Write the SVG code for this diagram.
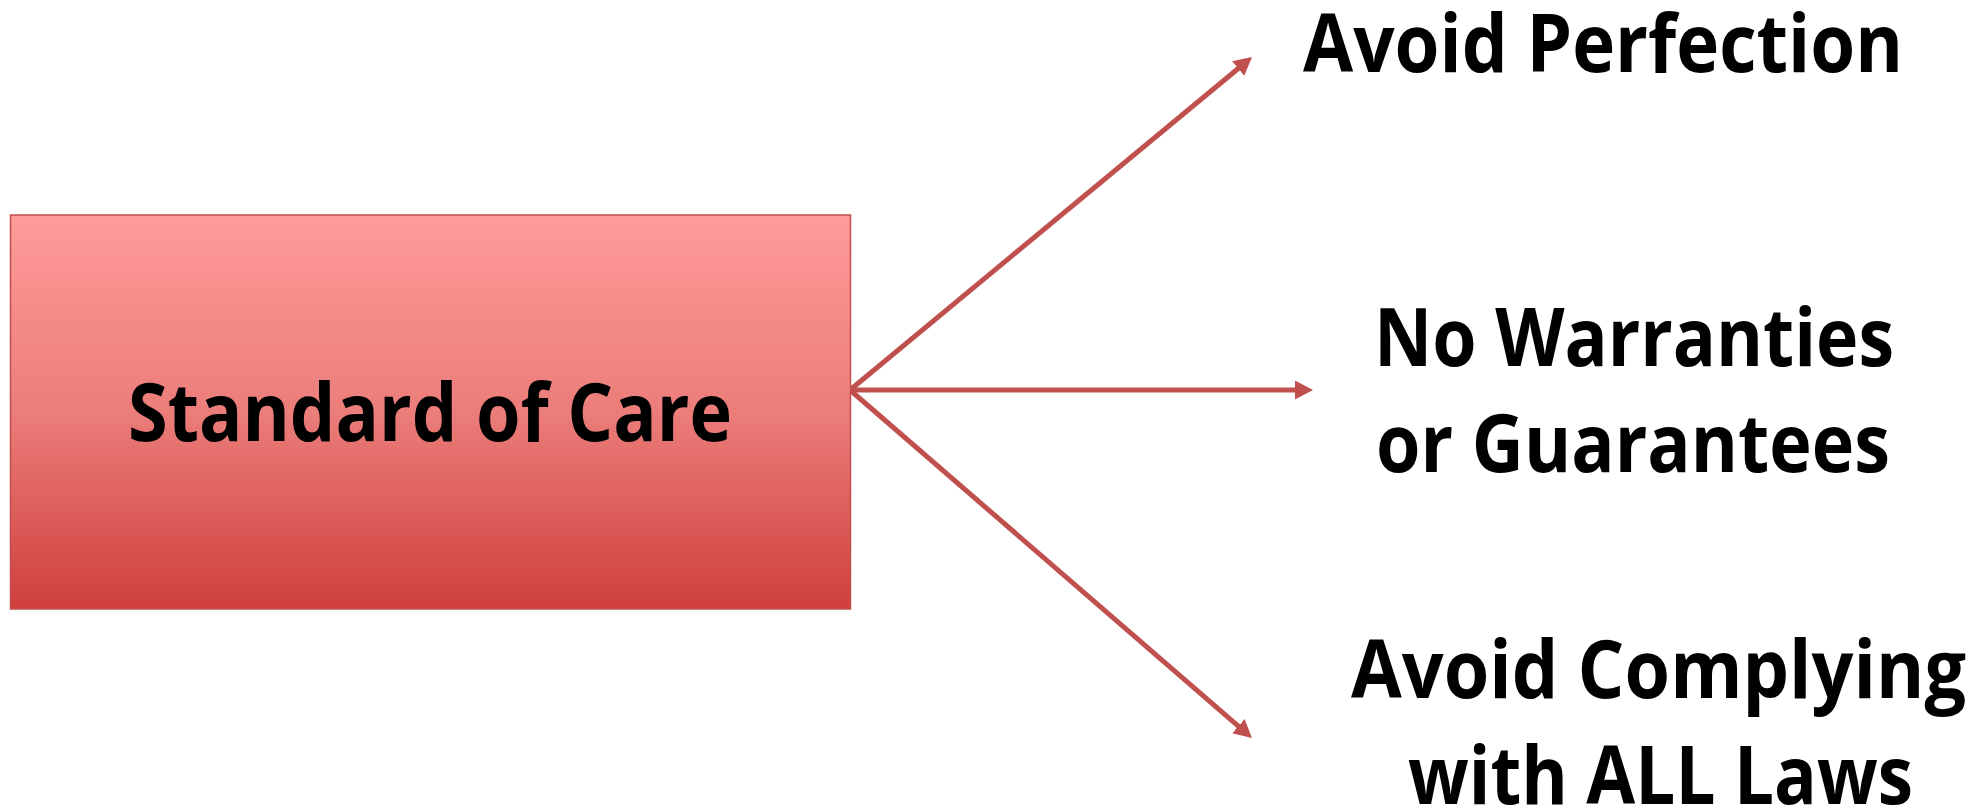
<svg xmlns="http://www.w3.org/2000/svg" width="1980" height="810" viewBox="0 0 1980 810">
<style>
.lbl{font-family:"Open Sans","Liberation Sans",sans-serif;font-weight:700;font-size:81px;fill:#000;}
.conn{stroke:#C0504D;stroke-width:5;fill:none;marker-end:url(#ah);}
</style>
<defs>
<linearGradient id="boxg" x1="0" y1="0" x2="0" y2="1">
<stop offset="0" stop-color="#FF9B99"/>
<stop offset="0.5" stop-color="#EB7D7A"/>
<stop offset="1" stop-color="#CF3F3C"/>
</linearGradient>
<marker id="ah" markerUnits="userSpaceOnUse" markerWidth="20" markerHeight="20" refX="6" refY="9.5" orient="auto">
<path d="M0,0 L18,9.5 L0,19 z" fill="#C0504D"/>
</marker>
</defs>
<rect width="1980" height="810" fill="#fff"/>
<g id="connectors">
<line class="conn" x1="850" y1="390" x2="1242.8" y2="64.7"/>
<line class="conn" x1="850" y1="390" x2="1301" y2="390"/>
<line class="conn" x1="850" y1="390" x2="1242.9" y2="730.1"/>
</g>
<g id="node-standard">
<rect x="10.5" y="215" width="840" height="394" fill="url(#boxg)" stroke="#C0504D" stroke-width="1.5"/>
<text class="lbl" x="128" y="441" textLength="604" lengthAdjust="spacingAndGlyphs">Standard of Care</text>
</g>
<g id="node-perfection">
<text class="lbl" x="1303" y="72" textLength="600" lengthAdjust="spacingAndGlyphs">Avoid Perfection</text>
</g>
<g id="node-warranties">
<text class="lbl" x="1374" y="366" textLength="520" lengthAdjust="spacingAndGlyphs">No Warranties</text>
<text class="lbl" x="1376" y="472" textLength="514" lengthAdjust="spacingAndGlyphs">or Guarantees</text>
</g>
<g id="node-laws">
<text class="lbl" x="1351" y="698" textLength="615" lengthAdjust="spacingAndGlyphs">Avoid Complying</text>
<text class="lbl" x="1408" y="804" textLength="505" lengthAdjust="spacingAndGlyphs">with ALL Laws</text>
</g>
</svg>
